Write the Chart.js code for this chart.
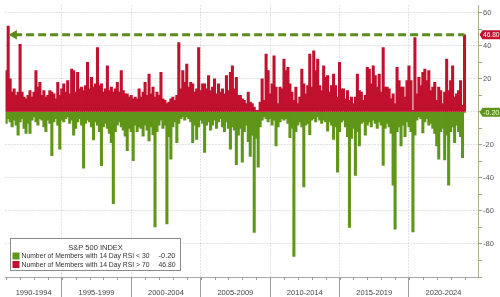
<!DOCTYPE html>
<html>
<head>
<meta charset="utf-8">
<script src="https://cdn.jsdelivr.net/npm/chart.js@4.4.1/dist/chart.umd.min.js"></script>
<style>
html,body{margin:0;padding:0;background:#fff;}
#wrap{position:relative;width:500px;height:297px;}
</style>
</head>
<body>
<div id="wrap"><canvas id="c" width="500" height="297"></canvas></div>
<script>
// ---- data (one value per ~1/7 year, starting 1991) ----
const startYear = 1991;
const periodsPerYear = 7;

const redRSI70 = [
  25, 52, 20, 12, 14, 10, 12, 41, 12, 9,
  8, 10, 13, 9, 12, 25, 15, 18, 10, 13,
  9, 10, 13, 12, 11, 8, 18, 10, 14, 17,
  12, 19, 11, 26, 25, 12, 24, 14, 15, 13,
  16, 30, 14, 21, 15, 17, 39, 16, 17, 12,
  14, 28, 13, 15, 12, 14, 18, 12, 25, 13,
  11, 11, 9, 10, 8, 9, 8, 14, 9, 12,
  18, 10, 23, 11, 15, 9, 12, 10, 24, 8,
  7, 5, 6, 8, 9, 7, 10, 42, 14, 25,
  18, 29, 15, 18, 17, 12, 14, 39, 13, 17,
  17, 14, 22, 13, 15, 20, 11, 17, 12, 14,
  11, 22, 13, 24, 28, 14, 21, 10, 10, 8,
  7, 5, 12, 6, 5, 3, 1, 1, 6, 20,
  7, 35, 25, 11, 17, 34, 15, 5, 15, 14,
  32, 25, 27, 17, 12, 7, 15, 5, 9, 26,
  17, 11, 16, 35, 15, 37, 25, 32, 16, 13,
  28, 21, 22, 12, 16, 23, 16, 9, 30, 14,
  14, 8, 13, 7, 9, 5, 9, 23, 13, 12,
  7, 10, 27, 26, 17, 28, 22, 15, 23, 12,
  39, 15, 15, 14, 8, 11, 5, 27, 19, 15,
  15, 9, 19, 28, 19, 1, 45, 11, 21, 16,
  24, 26, 19, 25, 13, 15, 18, 7, 15, 13,
  5, 12, 32, 13, 19, 28, 9, 11, 13, 19,
  4, 46.8
];

const greenRSI30 = [
  -7, -4, -6, -9, -5, -8, -14, -6, -4, -10,
  -13, -7, -13, -5, -3, -6, -8, -4, -5, -9,
  -12, -5, -7, -26.5, -6, -4, -8, -22.6, -5, -6,
  -4, -3, -7, -5, -14, -10, -6, -4, -8, -34,
  -7, -5, -6, -9, -17, -6, -8, -12, -32.5, -9,
  -7, -10, -13, -18.6, -55.5, -12, -8, -6, -9, -11,
  -14.6, -23.5, -10, -12, -29.5, -8, -12, -9, -10, -14.6,
  -8, -11, -17.6, -9, -13.7, -69.7, -12, -8, -5, -10,
  -8, -67.8, -15, -28.6, -9, -6, -18.6, -7, -4, -3,
  -5, -3, -4, -6, -18.6, -8, -16.6, -9, -5, -7,
  -24.5, -8, -6, -11, -8, -5, -10, -6, -4, -9,
  -12, -6, -10, -22.6, -9, -11, -32, -14, -10, -30.5,
  -12, -8, -18, -27, -14, -73, -16, -33.5, -9, -5,
  -3, -4, -6, -4, -8, -5, -20.6, -9, -6, -4,
  -5, -4, -7, -15.6, -10, -87.5, -12, -8, -6, -9,
  -45.4, -8, -7, -13.7, -5, -4, -6, -3, -5, -7,
  -5, -6, -11.7, -6, -8, -16.6, -9, -36.5, -12, -6,
  -5, -9, -15, -70, -16, -10, -38.4, -12, -20.6, -7,
  -6, -14, -8, -6, -9, -5, -7, -10, -6, -8,
  -32.4, -10, -7, -9, -13, -44.4, -71, -12, -9, -20.6,
  -8, -15, -6, -9, -12, -72.7, -14, -5, -3, -4,
  -12.7, -6, -4, -8, -7, -10, -13, -20.6, -28.6, -12,
  -10, -29, -14, -44.4, -12, -9, -18.6, -8, -12, -15,
  -27.7, -0.2
];

const periodLabels = ['1990-1994','1995-1999','2000-2004','2005-2009','2010-2014','2015-2019','2020-2024'];
const periodBounds = [1995, 2000, 2005, 2010, 2015, 2020];
const yTickLabels = [60, 40, 20, -20, -40, -60, -80];
const legendTitle = 'S&P 500 INDEX';
const seriesNames = ['Number of Members with 14 Day RSI < 30', 'Number of Members with 14 Day RSI > 70'];

// ---- build ----
const xs = redRSI70.map((_, i) => startYear + i / periodsPerYear);
const xMin = 1990.95, xMax = 2024.97;
const yMin = -100, yMax = 64.5;
const RED = '#c0112e', GREEN = '#5f961a', ARROW = '#5a8c1e';

const lastRed = redRSI70[redRSI70.length - 1];
const lastGreen = greenRSI30[greenRSI30.length - 1];

const labelTicks = [];
const allBounds = [xMin, ...periodBounds, xMax];
for (let k = 0; k < periodLabels.length; k++) {
  labelTicks.push({ value: +( (allBounds[k] + allBounds[k + 1]) / 2 ).toFixed(4), label: periodLabels[k] });
}
const labelMap = new Map(labelTicks.map(t => [t.value, t.label]));
const boundSet = new Set(periodBounds);

const FONT = '"Liberation Sans", Arial, sans-serif';

const extras = {
  id: 'extras',
  afterDraw(chart) {
    const ctx = chart.ctx;
    const xs_ = chart.scales.x, ys_ = chart.scales.y;
    const ca = chart.chartArea;
    ctx.save();
    // minor yearly ticks under x axis
    ctx.strokeStyle = '#9a9a9a';
    ctx.lineWidth = 1;
    for (let yr = Math.ceil(xMin); yr <= Math.floor(xMax); yr++) {
      const px = Math.round(xs_.getPixelForValue(yr)) + 0.5;
      ctx.beginPath();
      ctx.moveTo(px, ca.bottom);
      ctx.lineTo(px, ca.bottom + 3);
      ctx.stroke();
    }
    // value badges on the right axis
    const badge = (val, color) => {
      const yp = ys_.getPixelForValue(val);
      const left = ca.right + 1.5, right = chart.width, h = 9, tip = 3;
      ctx.beginPath();
      ctx.moveTo(left, yp);
      ctx.lineTo(left + tip, yp - h / 2);
      ctx.lineTo(right, yp - h / 2);
      ctx.lineTo(right, yp + h / 2);
      ctx.lineTo(left + tip, yp + h / 2);
      ctx.closePath();
      ctx.fillStyle = color;
      ctx.fill();
      ctx.fillStyle = '#ffffff';
      ctx.font = '7px ' + FONT;
      ctx.textAlign = 'center';
      ctx.textBaseline = 'middle';
      ctx.fillText(val.toFixed(2), (left + tip + right) / 2, yp + 0.5, right - left - tip - 1);
    };
    badge(lastRed, RED);
    badge(lastGreen, GREEN);

    // legend box
    const bx = 10.5, by = 238.5, bw = 170, bh = 32;
    ctx.fillStyle = '#ffffff';
    ctx.fillRect(bx, by, bw, bh);
    ctx.strokeStyle = '#8a8a8a';
    ctx.lineWidth = 1;
    ctx.strokeRect(bx, by, bw, bh);
    ctx.fillStyle = '#333';
    ctx.font = '7.5px ' + FONT;
    ctx.textAlign = 'center';
    ctx.textBaseline = 'middle';
    ctx.fillText(legendTitle, bx + bw / 2, by + 9, 60);
    const entries = [
      { name: chart.data.datasets[1].label, color: GREEN, val: lastGreen },
      { name: chart.data.datasets[0].label, color: RED, val: lastRed }
    ];
    entries.forEach((e, k) => {
      const cy = by + 17.5 + k * 8.5;
      ctx.fillStyle = e.color;
      ctx.fillRect(bx + 2, cy - 3.5, 7, 7);
      ctx.fillStyle = '#333';
      ctx.textAlign = 'left';
      ctx.fillText(e.name, bx + 11, cy, 128);
      ctx.textAlign = 'right';
      ctx.fillText(e.val.toFixed(2), bx + bw - 5, cy, 17);
    });
    ctx.restore();
  }
};

new Chart(document.getElementById('c'), {
  type: 'bar',
  data: {
    datasets: [
      {
        type: 'bar',
        label: seriesNames[1],
        data: xs.map((x, i) => ({ x, y: redRSI70[i] })),
        backgroundColor: RED,
        borderWidth: 0,
        grouped: false,
        barThickness: 2.4,
        order: 2
      },
      {
        type: 'bar',
        label: seriesNames[0],
        data: xs.map((x, i) => ({ x, y: greenRSI30[i] })),
        backgroundColor: GREEN,
        borderWidth: 0,
        grouped: false,
        barThickness: 2.4,
        order: 3
      },
      {
        type: 'line',
        label: 'arrow',
        data: [{ x: xs[4], y: lastRed }, { x: xs[xs.length - 1], y: lastRed }],
        borderColor: ARROW,
        backgroundColor: ARROW,
        borderWidth: 3,
        borderDash: [8, 4],
        pointStyle: 'triangle',
        pointRotation: 270,
        pointRadius: [5.5, 0],
        pointBorderWidth: 0,
        pointHoverRadius: 0,
        fill: false,
        clip: false,
        order: 0
      }
    ]
  },
  options: {
    responsive: false,
    devicePixelRatio: 1,
    animation: false,
    layout: { padding: 0 },
    plugins: { legend: { display: false }, tooltip: { enabled: false } },
    scales: {
      x: {
        type: 'linear',
        min: xMin,
        max: xMax,
        offset: false,
        afterBuildTicks(scale) {
          const vals = [...periodBounds, ...labelTicks.map(t => t.value)].sort((a, b) => a - b);
          scale.ticks = vals.map(v => ({ value: v }));
        },
        afterFit(scale) { scale.height = 20; },
        ticks: {
          autoSkip: false,
          maxRotation: 0,
          padding: -9,
          color: '#444',
          font: { size: 7.5, family: FONT },
          callback: (v) => labelMap.get(+(+v).toFixed(4)) || ''
        },
        grid: {
          offset: false,
          color: (c) => (c.tick && boundSet.has(c.tick.value)) ? '#c4c4c4' : 'rgba(0,0,0,0)',
          tickColor: (c) => (c.tick && boundSet.has(c.tick.value)) ? '#a0a0a0' : 'rgba(0,0,0,0)',
          tickLength: 20,
          tickBorderDash: [],
          lineWidth: 1
        },
        border: { display: true, color: '#a8a8a8', width: 1, dash: [1, 2] }
      },
      y: {
        position: 'right',
        min: yMin,
        max: yMax,
        afterBuildTicks(scale) {
          const vals = [];
          for (let v = yMin; v <= 60; v += 10) vals.push(v);
          scale.ticks = vals.map(v => ({ value: v }));
        },
        afterFit(scale) { scale.width = 22; },
        ticks: {
          padding: 1,
          color: '#555',
          font: { size: 7.5, family: FONT },
          callback: (v) => yTickLabels.includes(v) ? String(v) : ''
        },
        grid: {
          color: (c) => (c.tick && c.tick.value % 20 === 0 && c.tick.value !== yMin) ? '#c4c4c4' : 'rgba(0,0,0,0)',
          tickColor: '#9aa07a',
          tickLength: 4,
          tickBorderDash: [],
          lineWidth: 1
        },
        border: { display: true, color: '#aab08a', width: 1, dash: [1, 2] }
      }
    }
  },
  plugins: [extras]
});
</script>
</body>
</html>
